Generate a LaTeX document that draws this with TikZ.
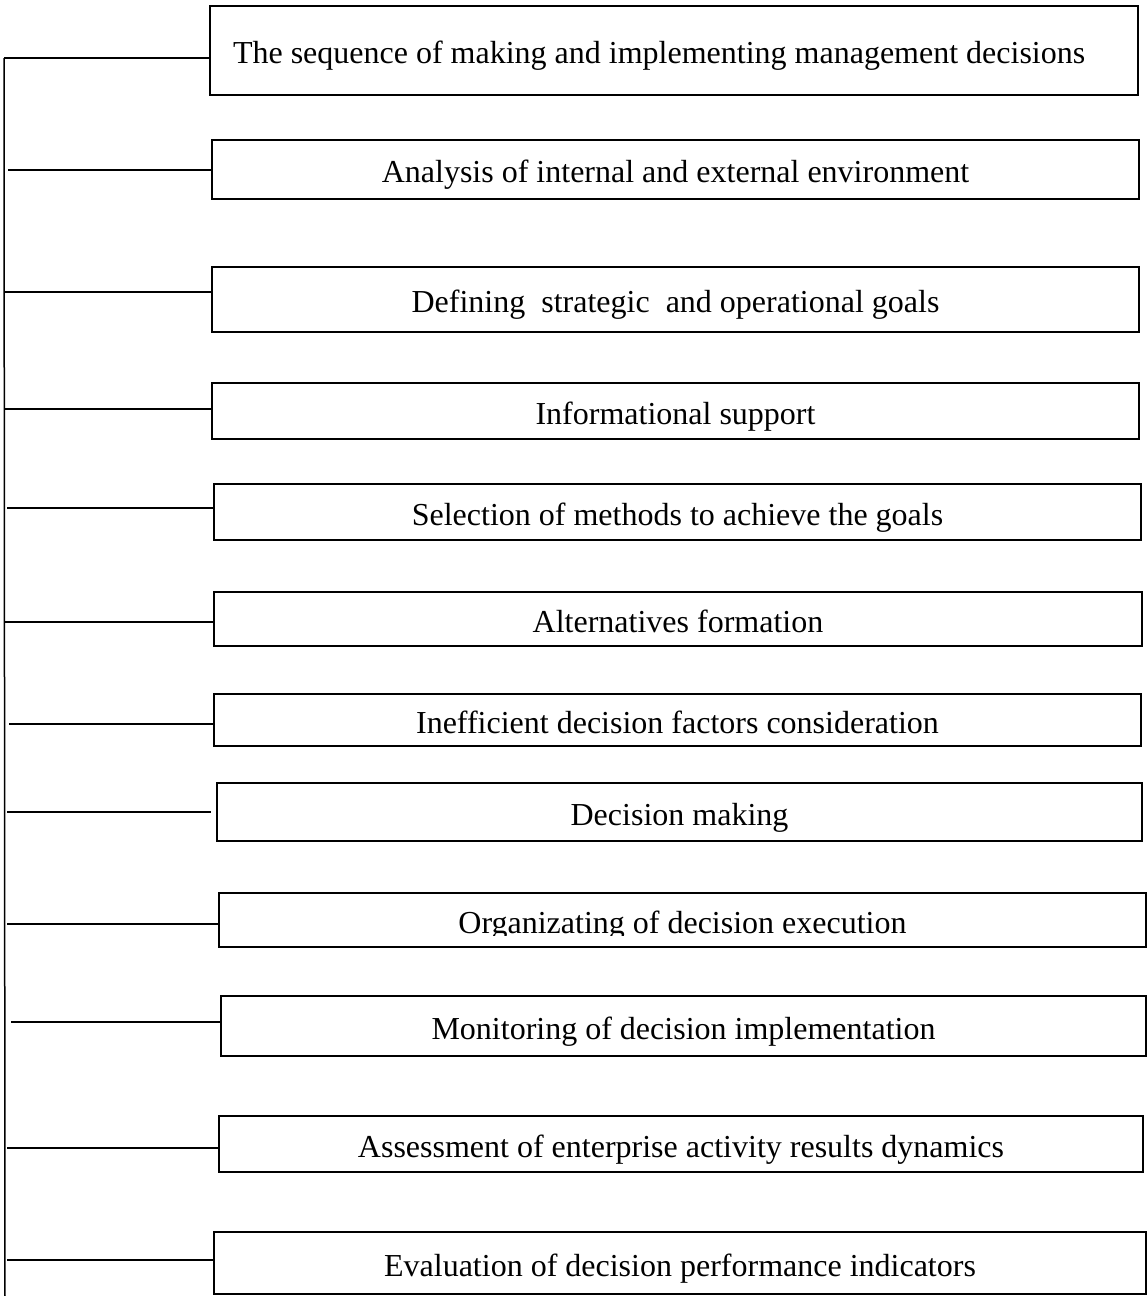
\documentclass[tikz,border=0pt]{standalone}
\usepackage{fontspec}
\setmainfont{Liberation Serif}
\begin{document}
\begin{tikzpicture}[x=1pt,y=-1pt,
  stepbox/.style={draw=black, line width=2.8pt, fill=white, anchor=north west,
    inner xsep=0pt, inner ysep=0pt, outer sep=0pt,
    text height=26pt, text depth=0pt,
    font=\fontsize{32}{38}\selectfont},
  steptext/.style={inner sep=0pt, outer sep=0pt, text height=26pt, text depth=0pt,
    font=\fontsize{32}{38}\selectfont},
  link/.style={line width=1.3pt, draw=black},
  spine/.style={line width=1.5pt, draw=black}]
\useasboundingbox[fill=white] (0,0) rectangle (1147,1296);

% boxes: left, top, width, height
\node[stepbox, minimum width=928pt, minimum height=89pt, inner xsep=23pt] (b1) at (210,6) {\makebox[882pt][l]{The sequence of making and implementing management decisions}};
\node[stepbox, minimum width=927pt, minimum height=59pt] (b2) at (212,140) {Analysis of internal and external environment};
\node[stepbox, minimum width=927pt, minimum height=65pt] (b3) at (212,267) {Defining\ \ strategic\ \ and operational goals};
\node[stepbox, minimum width=927pt, minimum height=56pt] (b4) at (212,383) {Informational support};
\node[stepbox, minimum width=927pt, minimum height=56pt] (b5) at (214,484) {Selection of methods to achieve the goals};
\node[stepbox, minimum width=928pt, minimum height=54pt] (b6) at (214,592) {Alternatives formation};
\node[stepbox, minimum width=927pt, minimum height=52pt] (b7) at (214,694) {Inefficient decision factors consideration};
\node[stepbox, minimum width=925pt, minimum height=58pt] (b8) at (217,783) {Decision making};
\node[stepbox, minimum width=927pt, minimum height=54pt] (b9) at (219,893) {};
\begin{scope}
  \clip (219,893) rectangle (1146,935);
  \node[steptext] (t9) at (b9.center) {Organizating of decision execution};
\end{scope}
\node[stepbox, minimum width=925pt, minimum height=60pt] (b10) at (221,996) {Monitoring of decision implementation};
\node[stepbox, minimum width=924pt, minimum height=56pt] (b11) at (219,1116) {Assessment of enterprise activity results dynamics};
\node[stepbox, minimum width=932pt, minimum height=62pt] (b12) at (214,1232) {Evaluation of decision performance indicators};

% connector start points
\coordinate (top) at (4,58);
\coordinate (bot) at (5,1296);
\coordinate (c1) at (4,58);
\coordinate (c2) at (8,170);
\coordinate (c3) at (4,292);
\coordinate (c4) at (4,409);
\coordinate (c5) at (7,508);
\coordinate (c6) at (4,622);
\coordinate (c7) at (9,724);
\coordinate (c8) at (7,812);
\coordinate (c9) at (7,924);
\coordinate (c10) at (11,1022);
\coordinate (c11) at (7,1148);
\coordinate (c12) at (7,1260);

\draw[spine] (top) -- (bot);
\foreach \i in {1,2,3,4,5,6,7,9,10,11,12}{
  \draw[link] (c\i) -- (c\i -| b\i.west);
}
\draw[link, shorten >=6pt] (c8) -- (c8 -| b8.west);
\end{tikzpicture}
\end{document}
